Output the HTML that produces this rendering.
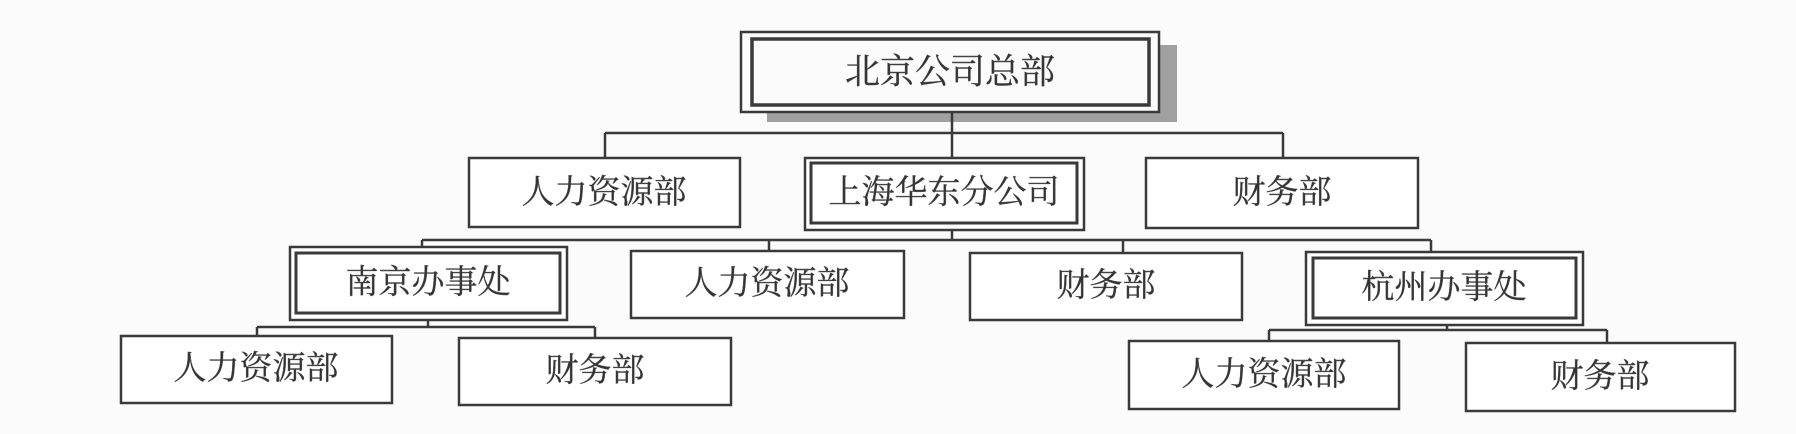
<!DOCTYPE html>
<html><head><meta charset="utf-8"><style>
html,body{margin:0;padding:0;background:#fbfbfb;}
svg{display:block;}
text{font-family:"Liberation Serif","Noto Serif CJK SC","Noto Sans CJK SC",serif;font-size:33px;fill:#333;text-anchor:middle;dominant-baseline:central;stroke:#555;stroke-width:0.4;}
</style></head><body>
<svg width="1796" height="434" viewBox="0 0 1796 434" xmlns="http://www.w3.org/2000/svg">
<g stroke="#3a3a3a" stroke-width="2.5" fill="none">
<rect x="767" y="45" width="410" height="77" fill="#a0a0a0" stroke="none"/>
<rect x="741" y="32" width="418" height="80" fill="#fbfbfb"/>
<rect x="752" y="39" width="397" height="66" stroke-width="3.5"/>
<path d="M952 112V133M605 133H1283M605 133V158M952 133V158M1283 133V158"/>
<rect x="469" y="158" width="271" height="69" fill="#fff"/>
<rect x="805" y="158" width="279" height="72" fill="#fff"/>
<rect x="811" y="163" width="266" height="60" stroke-width="3"/>
<rect x="1146" y="158" width="272" height="70" fill="#fff"/>
<path d="M952 230V240M422 240H1431M422 240V247M769 240V251M1123 240V253M1431 240V252"/>
<rect x="290" y="247" width="277" height="73" fill="#fff"/>
<rect x="296" y="253" width="264" height="60" stroke-width="3"/>
<rect x="631" y="251" width="273" height="67" fill="#fff"/>
<rect x="970" y="253" width="272" height="67" fill="#fff"/>
<rect x="1306" y="252" width="277" height="73" fill="#fff"/>
<rect x="1313" y="258" width="263" height="60" stroke-width="3"/>
<path d="M428 320V327M257 327H595M257 327V336M595 327V338"/>
<path d="M1447 325V330M1269 330H1607M1269 330V341M1607 330V343"/>
<rect x="121" y="336" width="271" height="67" fill="#fff"/>
<rect x="459" y="338" width="272" height="67" fill="#fff"/>
<rect x="1129" y="341" width="270" height="68" fill="#fff"/>
<rect x="1466" y="343" width="269" height="68" fill="#fff"/>
</g>
<text x="950" y="72" style="font-size:35px">北京公司总部</text>
<text x="604" y="193">人力资源部</text>
<text x="944" y="193">上海华东分公司</text>
<text x="1282" y="193">财务部</text>
<text x="428" y="283">南京办事处</text>
<text x="767" y="284">人力资源部</text>
<text x="1106" y="286">财务部</text>
<text x="1444" y="288">杭州办事处</text>
<text x="256" y="369">人力资源部</text>
<text x="595" y="371">财务部</text>
<text x="1264" y="375">人力资源部</text>
<text x="1600" y="377">财务部</text>
</svg>
</body></html>
